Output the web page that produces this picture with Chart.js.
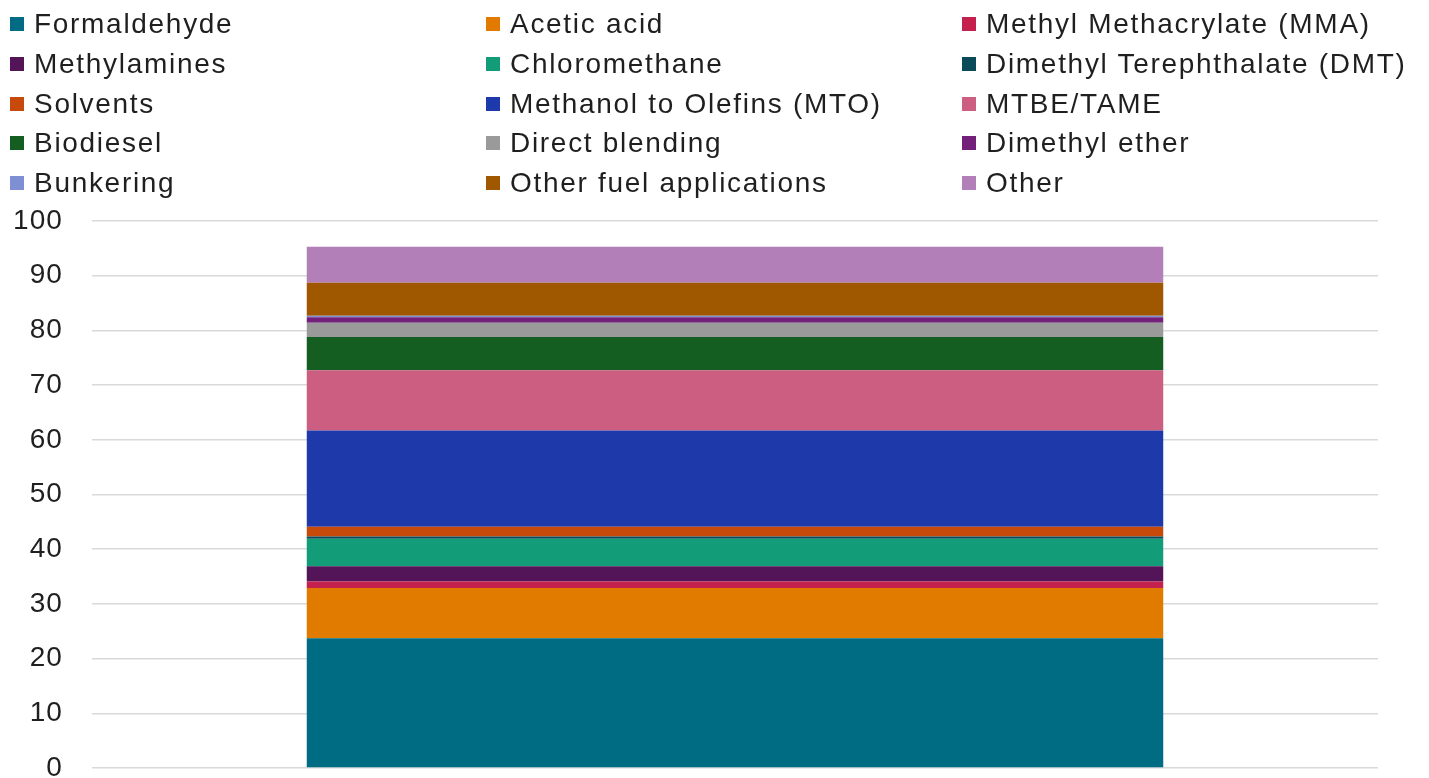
<!DOCTYPE html>
<html>
<head>
<meta charset="utf-8">
<script src="https://cdn.jsdelivr.net/npm/chart.js@4"></script>
<style>
  html, body { margin: 0; padding: 0; background: #ffffff; }
  #wrap { position: relative; width: 1429px; height: 778px; }
  #chart { position: absolute; left: 0; top: 0; }
  #legend { position: absolute; left: 0; top: 0; width: 1429px; height: 205px;
            font-family: "Liberation Sans", Arial, sans-serif; font-size: 28px;
            color: #1f1f1f; letter-spacing: 1.7px; }
  .item { position: absolute; height: 40px; display: flex; align-items: center; white-space: nowrap; }
  .box { width: 14px; height: 14px; margin-right: 10px; flex: none; }
</style>
</head>
<body>
<div id="wrap">
  <canvas id="chart" width="1429" height="778"></canvas>
  <div id="legend"></div>
</div>
<script>
// Methanol demand by end use (share, %), one stacked column
const categories = [''];
const seriesNames = [
  'Formaldehyde', 'Acetic acid', 'Methyl Methacrylate (MMA)',
  'Methylamines', 'Chloromethane', 'Dimethyl Terephthalate (DMT)',
  'Solvents', 'Methanol to Olefins (MTO)', 'MTBE/TAME',
  'Biodiesel', 'Direct blending', 'Dimethyl ether',
  'Bunkering', 'Other fuel applications', 'Other'
];
const seriesValues = [23.7, 9.2, 1.2, 2.8, 5.0, 0.4, 1.8, 17.6, 11.0, 6.1, 2.6, 1.0, 0.3, 6.0, 6.6];
const seriesColors = [
  '#006c84', '#e07b00', '#c4214f', '#541458', '#129c78', '#0b4a5a',
  '#c84a0a', '#1e3aaa', '#cc5e82', '#145e22', '#9a9a9a', '#72207a',
  '#7f8fd4', '#a05800', '#b27fb8'
];
const yTicks = [0, 10, 20, 30, 40, 50, 60, 70, 80, 90, 100];

const datasets = seriesNames.map((name, i) => ({
  label: name,
  data: [seriesValues[i]],
  backgroundColor: seriesColors[i],
  borderWidth: 0,
  barPercentage: 0.666,
  categoryPercentage: 1.0
}));

// wider glyph spacing for the axis labels
const spacingPlugin = {
  id: 'spacing',
  beforeDraw(chart) { chart.ctx.letterSpacing = '1.1px'; }
};

const chart = new Chart(document.getElementById('chart'), {
  type: 'bar',
  data: { labels: categories, datasets },
  plugins: [spacingPlugin],
  options: {
    responsive: false,
    animation: false,
    layout: { padding: { top: 221, right: 51, bottom: 10, left: 0 } },
    plugins: { legend: { display: false }, tooltip: { enabled: false } },
    scales: {
      x: { stacked: true, display: false },
      y: {
        stacked: true,
        min: 0,
        max: 100,
        afterBuildTicks(s) { s.ticks = yTicks.map(v => ({ value: v })); },
        afterFit(s) { s.width = 92; s.paddingTop = 0; s.paddingBottom = 0; },
        border: { display: false },
        grid: { color: '#d9d9d9', lineWidth: 1.5, drawTicks: false },
        ticks: {
          padding: 29,
          color: '#1f1f1f',
          font: { family: '"Liberation Sans", Arial, sans-serif', size: 28 }
        }
      }
    }
  }
});

// legend laid out in three columns, filled row by row
const colX = [10, 486, 962];
const legend = document.getElementById('legend');
chart.data.datasets.forEach((ds, i) => {
  const item = document.createElement('div');
  item.className = 'item';
  item.style.left = colX[i % 3] + 'px';
  item.style.top = (3.7 + Math.floor(i / 3) * 39.9) + 'px';
  const box = document.createElement('span');
  box.className = 'box';
  box.style.background = ds.backgroundColor;
  const txt = document.createElement('span');
  txt.textContent = ds.label;
  item.appendChild(box);
  item.appendChild(txt);
  legend.appendChild(item);
});
</script>
</body>
</html>
